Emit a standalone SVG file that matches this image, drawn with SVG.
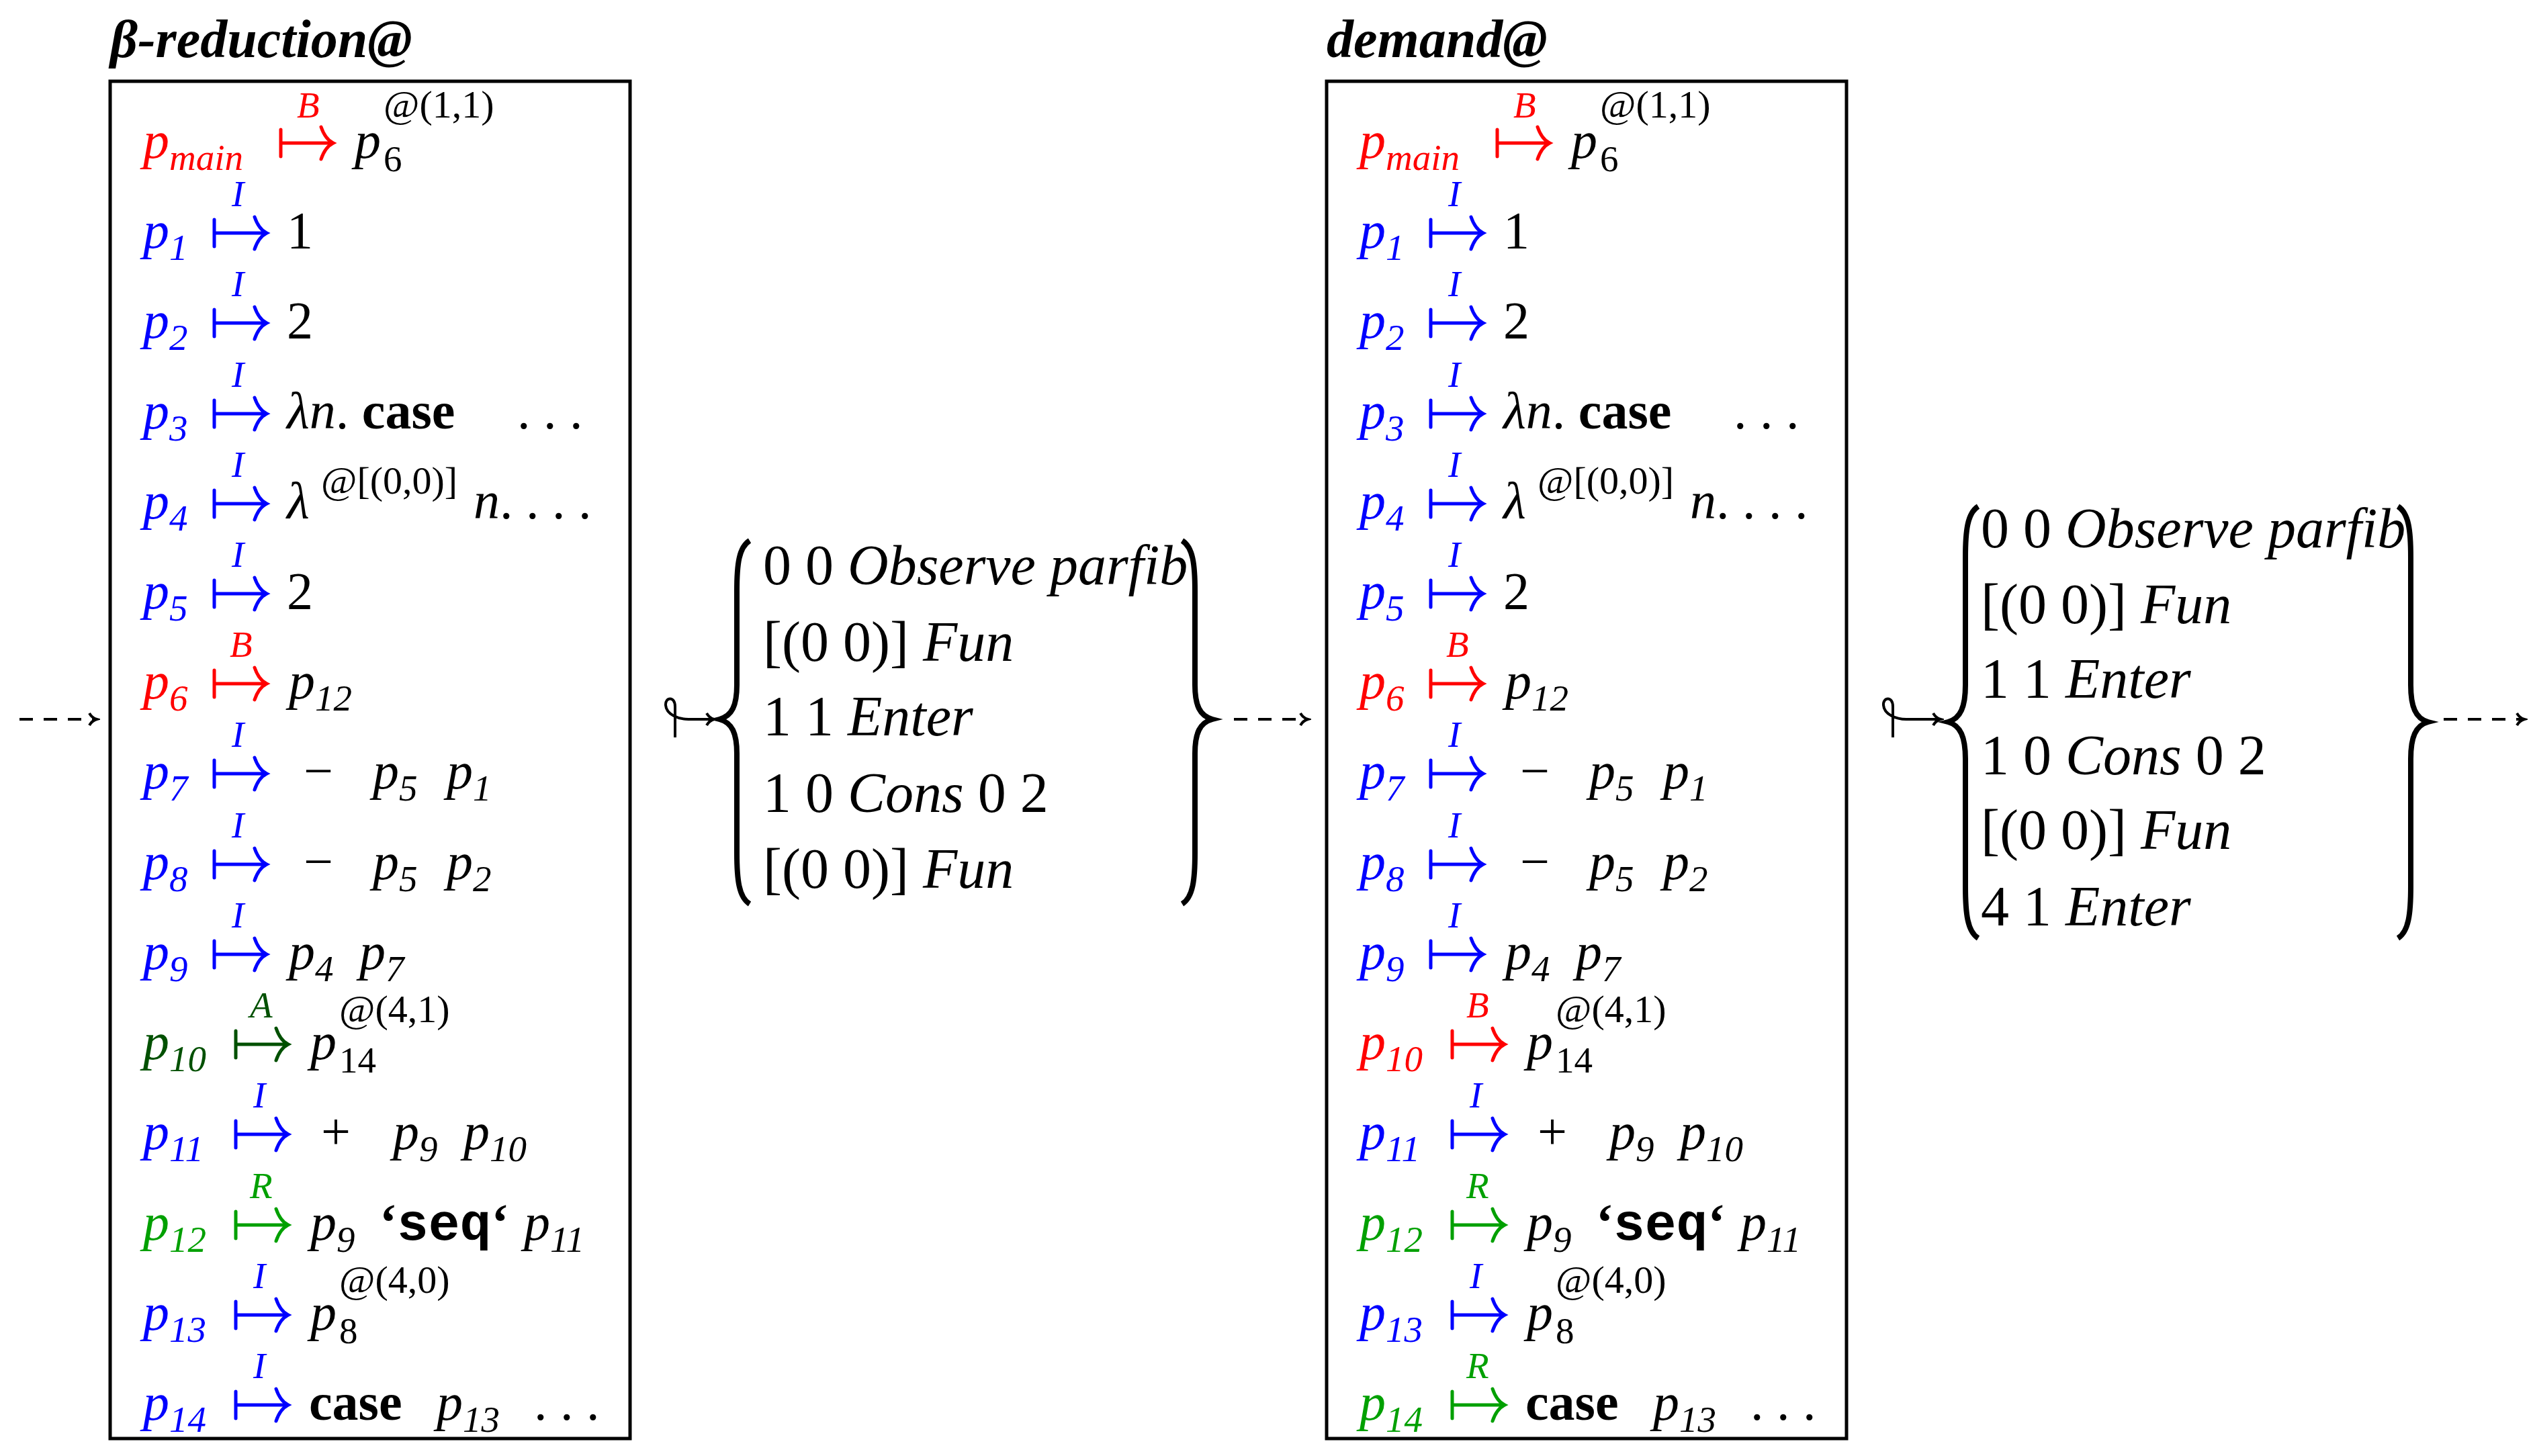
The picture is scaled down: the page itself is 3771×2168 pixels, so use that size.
<svg xmlns="http://www.w3.org/2000/svg" width="3771" height="2168" viewBox="0 0 3771 2168">
<style>
text{font-family:"Liberation Serif",serif;font-size:78px;fill:#000}
.i{font-style:italic}
.bd{font-weight:bold}
.s{font-size:55px}
.sp{font-size:58px}
.t{font-size:80px;font-weight:bold;font-style:italic}
.tt{font-family:"Liberation Mono",monospace;font-weight:bold}
.red{fill:#f00}.blue{fill:#00f}.dg{fill:#005000}.gr{fill:#00a000}
.box{fill:none;stroke:#000;stroke-width:5}
.ar{fill:none;stroke-width:5;stroke-linecap:round}
.br{fill:none;stroke:#000;stroke-width:8}
.cn{fill:none;stroke:#000;stroke-width:4}
.st{font-size:84px}
</style>
<defs>
<g id="mt"><path d="M0,-20 V20 M0,0 H78 M60,-24 Q66,-6 78,0 Q66,6 60,24"/></g>
<marker id="ah" markerWidth="20" markerHeight="20" refX="14" refY="10" orient="auto" markerUnits="userSpaceOnUse"><path d="M4,1 Q8,8 15,10 Q8,12 4,19" fill="none" stroke="#000" stroke-width="4"/></marker>
</defs>

<g id="connectors">
<path class="cn" d="M29,1071 H143" stroke-dasharray="20,16" marker-end="url(#ah)"/>
<path class="cn" d="M1005,1098 V1052 C1005,1036 990,1038 991,1050 C992,1064 1010,1071 1025,1071 H1062" marker-end="url(#ah)"/>
<path class="cn" d="M1837,1071 H1946" stroke-dasharray="20,16" marker-end="url(#ah)"/>
<path class="cn" d="M2818,1098 V1052 C2818,1036 2803,1038 2804,1050 C2805,1064 2823,1071 2838,1071 H2888" marker-end="url(#ah)"/>
<path class="cn" d="M3638,1071 H3757" stroke-dasharray="20,16" marker-end="url(#ah)"/>
</g>

<g id="heap1">
<text class="t" x="164" y="85">β-reduction@</text>
<rect class="box" x="164" y="121" width="774" height="2021"/>
<g id="h1rows">
<text class="i red" x="213" y="235">p<tspan class="s" dy="18">main</tspan></text>
<use href="#mt" x="418" y="213" class="ar" stroke="#f00"/><text class="i s red" x="442" y="175">B</text>
<text class="i" x="528" y="235">p</text><text class="s" x="571" y="255">6</text><text class="sp" x="571" y="175">@(1,1)</text>

<text class="i blue" x="213" y="369">p<tspan class="s" dy="18">1</tspan></text>
<use href="#mt" x="319" y="347" class="ar" stroke="#00f"/><text class="i s blue" x="345" y="307">I</text>
<text x="427" y="369">1</text>

<text class="i blue" x="213" y="503">p<tspan class="s" dy="18">2</tspan></text>
<use href="#mt" x="319" y="481" class="ar" stroke="#00f"/><text class="i s blue" x="345" y="441">I</text>
<text x="427" y="503">2</text>

<text class="i blue" x="213" y="638">p<tspan class="s" dy="18">3</tspan></text>
<use href="#mt" x="319" y="616" class="ar" stroke="#00f"/><text class="i s blue" x="345" y="576">I</text>
<text x="427" y="638"><tspan class="i">λn</tspan>. <tspan class="bd">case</tspan> <tspan x="770">. . .</tspan></text>

<text class="i blue" x="213" y="772">p<tspan class="s" dy="18">4</tspan></text>
<use href="#mt" x="319" y="750" class="ar" stroke="#00f"/><text class="i s blue" x="345" y="710">I</text>
<text class="i" x="427" y="772">λ</text><text class="sp" x="478" y="735">@[(0,0)]</text><text x="705" y="772"><tspan class="i">n</tspan>. . . .</text>

<text class="i blue" x="213" y="906">p<tspan class="s" dy="18">5</tspan></text>
<use href="#mt" x="319" y="884" class="ar" stroke="#00f"/><text class="i s blue" x="345" y="844">I</text>
<text x="427" y="906">2</text>

<text class="i red" x="213" y="1040">p<tspan class="s" dy="18">6</tspan></text>
<use href="#mt" x="319" y="1018" class="ar" stroke="#f00"/><text class="i s red" x="342" y="978">B</text>
<text class="i" x="430" y="1040">p<tspan class="s" dy="18">12</tspan></text>

<text class="i blue" x="213" y="1174">p<tspan class="s" dy="18">7</tspan></text>
<use href="#mt" x="319" y="1152" class="ar" stroke="#00f"/><text class="i s blue" x="345" y="1112">I</text>
<text x="452" y="1174">−</text><text class="i" x="555" y="1174">p<tspan class="s" dy="18">5</tspan></text><text class="i" x="665" y="1174">p<tspan class="s" dy="18">1</tspan></text>

<text class="i blue" x="213" y="1309">p<tspan class="s" dy="18">8</tspan></text>
<use href="#mt" x="319" y="1287" class="ar" stroke="#00f"/><text class="i s blue" x="345" y="1247">I</text>
<text x="452" y="1309">−</text><text class="i" x="555" y="1309">p<tspan class="s" dy="18">5</tspan></text><text class="i" x="665" y="1309">p<tspan class="s" dy="18">2</tspan></text>

<text class="i blue" x="213" y="1443">p<tspan class="s" dy="18">9</tspan></text>
<use href="#mt" x="319" y="1421" class="ar" stroke="#00f"/><text class="i s blue" x="345" y="1381">I</text>
<text class="i" x="430" y="1443">p<tspan class="s" dy="18">4</tspan></text><text class="i" x="535" y="1443">p<tspan class="s" dy="18">7</tspan></text>

<text class="i dg" x="213" y="1577">p<tspan class="s" dy="18">10</tspan></text>
<use href="#mt" x="351" y="1555" class="ar" stroke="#005000"/><text class="i s dg" x="372" y="1515">A</text>
<text class="i" x="462" y="1577">p</text><text class="s" x="505" y="1597">14</text><text class="sp" x="505" y="1522">@(4,1)</text>

<text class="i blue" x="213" y="1711">p<tspan class="s" dy="18">11</tspan></text>
<use href="#mt" x="351" y="1689" class="ar" stroke="#00f"/><text class="i s blue" x="377" y="1649">I</text>
<text x="478" y="1711">+</text><text class="i" x="585" y="1711">p<tspan class="s" dy="18">9</tspan></text><text class="i" x="690" y="1711">p<tspan class="s" dy="18">10</tspan></text>

<text class="i gr" x="213" y="1846">p<tspan class="s" dy="18">12</tspan></text>
<use href="#mt" x="351" y="1824" class="ar" stroke="#00a000"/><text class="i s gr" x="372" y="1784">R</text>
<text class="i" x="462" y="1846">p<tspan class="s" dy="18">9</tspan></text><text x="565" y="1846"><tspan class="bd">‘</tspan><tspan class="tt">seq</tspan><tspan class="bd">‘</tspan></text><text class="i" x="780" y="1846">p<tspan class="s" dy="18">11</tspan></text>

<text class="i blue" x="213" y="1980">p<tspan class="s" dy="18">13</tspan></text>
<use href="#mt" x="351" y="1958" class="ar" stroke="#00f"/><text class="i s blue" x="377" y="1918">I</text>
<text class="i" x="462" y="1980">p</text><text class="s" x="505" y="2000">8</text><text class="sp" x="505" y="1925">@(4,0)</text>

<text class="i blue" x="213" y="2114">p<tspan class="s" dy="18">14</tspan></text>
<use href="#mt" x="351" y="2092" class="ar" stroke="#00f"/><text class="i s blue" x="377" y="2052">I</text>
<text class="bd" x="460" y="2114">case</text><text class="i" x="650" y="2114">p<tspan class="s" dy="18">13</tspan></text><text x="795" y="2114">. . .</text>
</g>
</g>

<g id="stack1">
<path class="br" d="M1116,805 C1100,815 1097,840 1097,880 L1097,1020 C1097,1050 1090,1066 1071,1071 C1090,1076 1097,1092 1097,1122 L1097,1270 C1097,1310 1100,1336 1116,1346"/>
<path class="br" d="M1760,805 C1776,815 1779,840 1779,880 L1779,1020 C1779,1050 1786,1066 1805,1071 C1786,1076 1779,1092 1779,1122 L1779,1270 C1779,1310 1776,1336 1760,1346"/>
<text class="st" x="1136" y="870">0 0 <tspan class="i">Observe parfib</tspan></text>
<text class="st" x="1136" y="984">[(0 0)] <tspan class="i">Fun</tspan></text>
<text class="st" x="1136" y="1095">1 1 <tspan class="i">Enter</tspan></text>
<text class="st" x="1136" y="1209">1 0 <tspan class="i">Cons</tspan> 0 2</text>
<text class="st" x="1136" y="1322">[(0 0)] <tspan class="i">Fun</tspan></text>
</g>

<g id="heap2" transform="translate(1811,0)">
<text class="t" x="164" y="85">demand@</text>
<rect class="box" x="164" y="121" width="774" height="2021"/>
<text class="i red" x="213" y="235">p<tspan class="s" dy="18">main</tspan></text>
<use href="#mt" x="418" y="213" class="ar" stroke="#f00"/><text class="i s red" x="442" y="175">B</text>
<text class="i" x="528" y="235">p</text><text class="s" x="571" y="255">6</text><text class="sp" x="571" y="175">@(1,1)</text>

<text class="i blue" x="213" y="369">p<tspan class="s" dy="18">1</tspan></text>
<use href="#mt" x="319" y="347" class="ar" stroke="#00f"/><text class="i s blue" x="345" y="307">I</text>
<text x="427" y="369">1</text>

<text class="i blue" x="213" y="503">p<tspan class="s" dy="18">2</tspan></text>
<use href="#mt" x="319" y="481" class="ar" stroke="#00f"/><text class="i s blue" x="345" y="441">I</text>
<text x="427" y="503">2</text>

<text class="i blue" x="213" y="638">p<tspan class="s" dy="18">3</tspan></text>
<use href="#mt" x="319" y="616" class="ar" stroke="#00f"/><text class="i s blue" x="345" y="576">I</text>
<text x="427" y="638"><tspan class="i">λn</tspan>. <tspan class="bd">case</tspan> <tspan x="770">. . .</tspan></text>

<text class="i blue" x="213" y="772">p<tspan class="s" dy="18">4</tspan></text>
<use href="#mt" x="319" y="750" class="ar" stroke="#00f"/><text class="i s blue" x="345" y="710">I</text>
<text class="i" x="427" y="772">λ</text><text class="sp" x="478" y="735">@[(0,0)]</text><text x="705" y="772"><tspan class="i">n</tspan>. . . .</text>

<text class="i blue" x="213" y="906">p<tspan class="s" dy="18">5</tspan></text>
<use href="#mt" x="319" y="884" class="ar" stroke="#00f"/><text class="i s blue" x="345" y="844">I</text>
<text x="427" y="906">2</text>

<text class="i red" x="213" y="1040">p<tspan class="s" dy="18">6</tspan></text>
<use href="#mt" x="319" y="1018" class="ar" stroke="#f00"/><text class="i s red" x="342" y="978">B</text>
<text class="i" x="430" y="1040">p<tspan class="s" dy="18">12</tspan></text>

<text class="i blue" x="213" y="1174">p<tspan class="s" dy="18">7</tspan></text>
<use href="#mt" x="319" y="1152" class="ar" stroke="#00f"/><text class="i s blue" x="345" y="1112">I</text>
<text x="452" y="1174">−</text><text class="i" x="555" y="1174">p<tspan class="s" dy="18">5</tspan></text><text class="i" x="665" y="1174">p<tspan class="s" dy="18">1</tspan></text>

<text class="i blue" x="213" y="1309">p<tspan class="s" dy="18">8</tspan></text>
<use href="#mt" x="319" y="1287" class="ar" stroke="#00f"/><text class="i s blue" x="345" y="1247">I</text>
<text x="452" y="1309">−</text><text class="i" x="555" y="1309">p<tspan class="s" dy="18">5</tspan></text><text class="i" x="665" y="1309">p<tspan class="s" dy="18">2</tspan></text>

<text class="i blue" x="213" y="1443">p<tspan class="s" dy="18">9</tspan></text>
<use href="#mt" x="319" y="1421" class="ar" stroke="#00f"/><text class="i s blue" x="345" y="1381">I</text>
<text class="i" x="430" y="1443">p<tspan class="s" dy="18">4</tspan></text><text class="i" x="535" y="1443">p<tspan class="s" dy="18">7</tspan></text>

<text class="i red" x="213" y="1577">p<tspan class="s" dy="18">10</tspan></text>
<use href="#mt" x="351" y="1555" class="ar" stroke="#f00"/><text class="i s red" x="372" y="1515">B</text>
<text class="i" x="462" y="1577">p</text><text class="s" x="505" y="1597">14</text><text class="sp" x="505" y="1522">@(4,1)</text>

<text class="i blue" x="213" y="1711">p<tspan class="s" dy="18">11</tspan></text>
<use href="#mt" x="351" y="1689" class="ar" stroke="#00f"/><text class="i s blue" x="377" y="1649">I</text>
<text x="478" y="1711">+</text><text class="i" x="585" y="1711">p<tspan class="s" dy="18">9</tspan></text><text class="i" x="690" y="1711">p<tspan class="s" dy="18">10</tspan></text>

<text class="i gr" x="213" y="1846">p<tspan class="s" dy="18">12</tspan></text>
<use href="#mt" x="351" y="1824" class="ar" stroke="#00a000"/><text class="i s gr" x="372" y="1784">R</text>
<text class="i" x="462" y="1846">p<tspan class="s" dy="18">9</tspan></text><text x="565" y="1846"><tspan class="bd">‘</tspan><tspan class="tt">seq</tspan><tspan class="bd">‘</tspan></text><text class="i" x="780" y="1846">p<tspan class="s" dy="18">11</tspan></text>

<text class="i blue" x="213" y="1980">p<tspan class="s" dy="18">13</tspan></text>
<use href="#mt" x="351" y="1958" class="ar" stroke="#00f"/><text class="i s blue" x="377" y="1918">I</text>
<text class="i" x="462" y="1980">p</text><text class="s" x="505" y="2000">8</text><text class="sp" x="505" y="1925">@(4,0)</text>

<text class="i gr" x="213" y="2114">p<tspan class="s" dy="18">14</tspan></text>
<use href="#mt" x="351" y="2092" class="ar" stroke="#00a000"/><text class="i s gr" x="372" y="2052">R</text>
<text class="bd" x="460" y="2114">case</text><text class="i" x="650" y="2114">p<tspan class="s" dy="18">13</tspan></text><text x="795" y="2114">. . .</text>
</g>

<g id="stack2">
<path class="br" d="M2945,754 C2929,764 2926,790 2926,830 L2926,1020 C2926,1052 2919,1070 2900,1075 C2919,1080 2926,1098 2926,1130 L2926,1320 C2926,1360 2929,1387 2945,1397"/>
<path class="br" d="M3570,754 C3586,764 3589,790 3589,830 L3589,1020 C3589,1052 3596,1070 3615,1075 C3596,1080 3589,1098 3589,1130 L3589,1320 C3589,1360 3586,1387 3570,1397"/>
<text class="st" x="2949" y="815">0 0 <tspan class="i">Observe parfib</tspan></text>
<text class="st" x="2949" y="928">[(0 0)] <tspan class="i">Fun</tspan></text>
<text class="st" x="2949" y="1039">1 1 <tspan class="i">Enter</tspan></text>
<text class="st" x="2949" y="1153">1 0 <tspan class="i">Cons</tspan> 0 2</text>
<text class="st" x="2949" y="1264">[(0 0)] <tspan class="i">Fun</tspan></text>
<text class="st" x="2949" y="1378">4 1 <tspan class="i">Enter</tspan></text>
</g>
</svg>
